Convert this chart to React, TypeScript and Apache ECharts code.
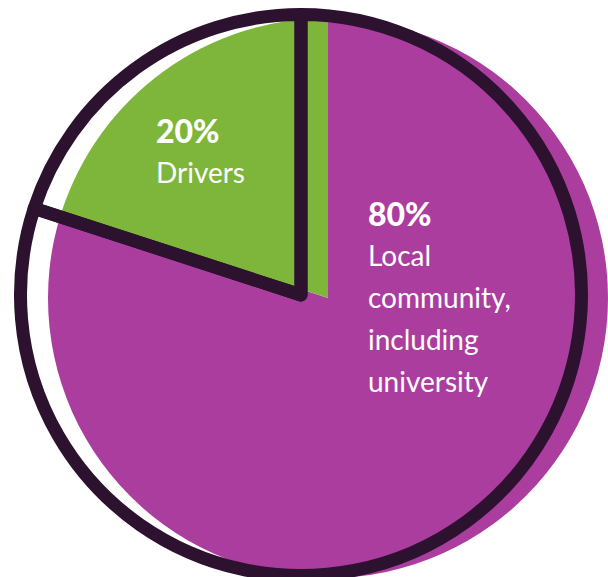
import React, { useEffect, useRef } from "react";
import * as echarts from "echarts";

// ---- data ----
const categories = ["Local community, including university", "Drivers"];
const labelNames = ["Local\ncommunity,\nincluding\nuniversity", "Drivers"];
const values = [80, 20];

// ---- style ----
const sliceColors = ["#ab3d9f", "#7db63a"];
const outlineColor = "#2d1230";
const labelAnchors = [
  [368, 192],
  [156, 109],
];

export default function App() {
  const ref = useRef<HTMLDivElement>(null);
  useEffect(() => {
    if (!ref.current) return;
    const chart = echarts.init(ref.current, null, { renderer: "svg" });
    const fillData = categories.map((name, i) => ({
      name,
      value: values[i],
      itemStyle: { color: sliceColors[i] },
    }));
    const outlineData = categories.map((name, i) => ({ name, value: values[i] }));
    chart.setOption({
      animation: false,
      backgroundColor: "#ffffff",
      series: [
        {
          type: "pie",
          silent: true,
          center: [328, 298],
          radius: 280,
          startAngle: 90,
          clockwise: true,
          data: fillData,
          itemStyle: { borderWidth: 0 },
          emphasis: { disabled: true },
          labelLine: { show: false },
          label: {
            show: true,
            position: "inside",
            formatter: (p: any) =>
              `{pct|${Math.round(p.percent)}%}\n{name|${labelNames[p.dataIndex]}}`,
            rich: {
              pct: {
                fontFamily: "Lato",
                fontWeight: 900,
                fontSize: 32,
                lineHeight: 42,
                color: "#ffffff",
              },
              name: {
                fontFamily: "Lato",
                fontSize: 28,
                lineHeight: 42,
                color: "#ffffff",
              },
            },
          },
          labelLayout: (params: any) => ({
            x: labelAnchors[params.dataIndex][0],
            y: labelAnchors[params.dataIndex][1],
            align: "left",
            verticalAlign: "top",
          }),
        },
        {
          type: "pie",
          silent: true,
          center: [301, 295],
          radius: 280.5,
          startAngle: 90,
          clockwise: true,
          data: outlineData,
          emphasis: { disabled: true },
          label: { show: false },
          labelLine: { show: false },
          itemStyle: {
            color: "rgba(0,0,0,0)",
            borderColor: outlineColor,
            borderWidth: 13,
            borderJoin: "round",
          },
        },
      ],
    });
    return () => chart.dispose();
  }, []);
  return (
    <div
      ref={ref}
      style={{ position: "fixed", left: 0, top: 0, width: 608, height: 577 }}
    />
  );
}
